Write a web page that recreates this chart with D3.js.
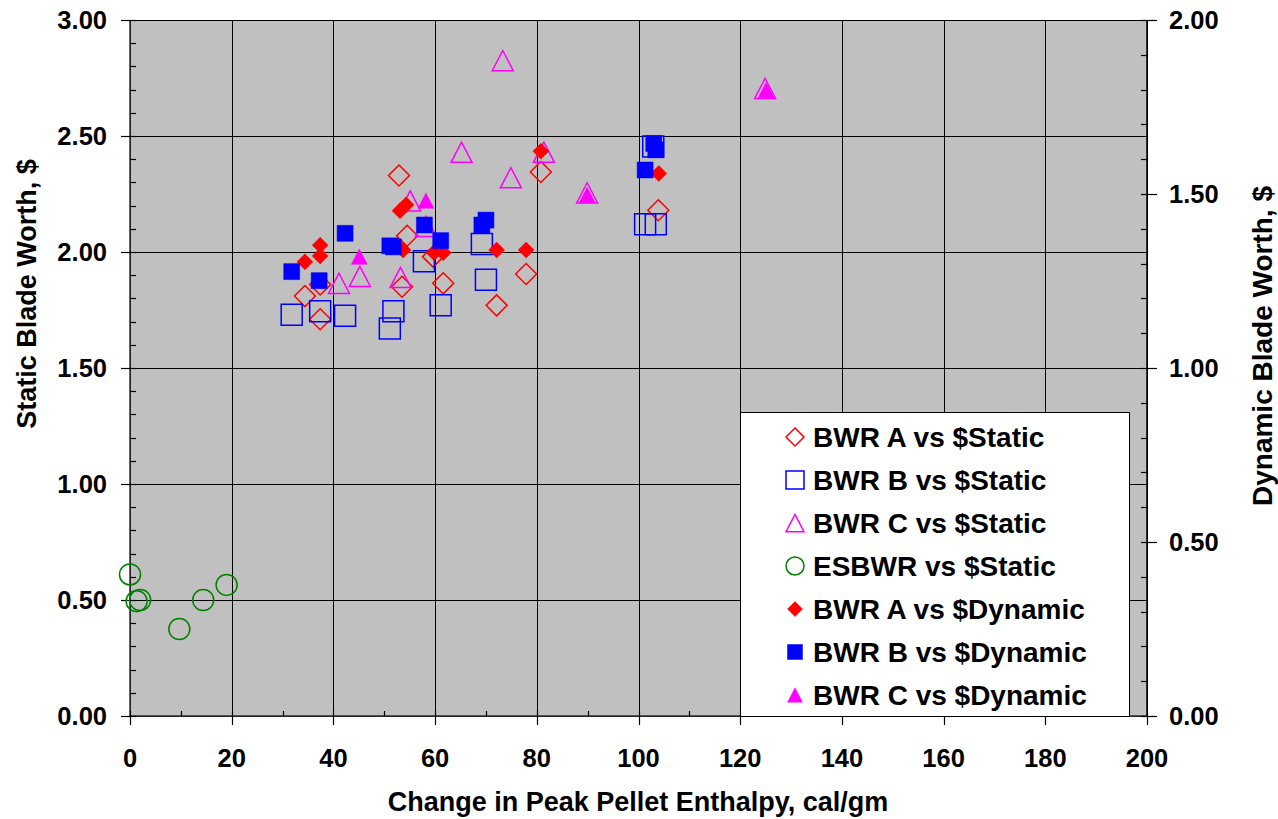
<!DOCTYPE html>
<html>
<head>
<meta charset="utf-8">
<script src="https://cdn.jsdelivr.net/npm/d3@7"></script>
<style>
	body { margin: 0; background: #fff; }
	text { font-family: Arial, "Liberation Sans", sans-serif; font-weight: bold; fill: #000; }
</style>
</head>
<body>
<svg id="chart"></svg>
<script>
// values: [enthalpy change, blade worth]
const staticA = [[34.4, 1.81], [37.4, 1.86], [37.4, 1.71], [52.9, 2.33], [54.5, 2.07], [53.5, 1.85],
	[59.6, 1.98], [61.6, 1.865], [72.1, 1.77], [77.9, 1.905], [80.8, 2.345], [103.9, 2.18]];
const staticB = [[31.8, 1.73], [37.4, 1.745], [42.3, 1.725], [51.8, 1.745], [51.1, 1.67], [57.8, 1.96],
	[61.1, 1.77], [69.2, 2.035], [70.0, 1.88], [101.3, 2.12], [103.4, 2.12], [102.9, 2.455]];
const staticC = [[41.1, 1.865], [45.2, 1.895], [53.2, 1.89], [55.1, 2.22], [58.2, 2.11], [65.2, 2.43],
	[73.3, 2.825], [74.9, 2.32], [81.4, 2.43], [89.9, 2.255], [124.9, 2.705]];
const staticESBWR = [[0, 0.61], [1.3, 0.495], [2.0, 0.5], [9.7, 0.375], [14.4, 0.5], [19.0, 0.565]];
// dynamic worth goes on the right axis
const dynamicA = [[34.4, 1.305], [37.4, 1.353], [37.4, 1.322], [53.1, 1.452], [54.3, 1.469], [53.7, 1.339],
	[59.8, 1.331], [61.6, 1.331], [72.1, 1.339], [77.9, 1.339], [80.8, 1.623], [104.0, 1.559]];
const dynamicB = [[31.8, 1.277], [37.2, 1.251], [42.3, 1.387], [51.1, 1.351], [51.8, 1.348], [57.9, 1.411],
	[61.1, 1.366], [69.2, 1.411], [70.0, 1.425], [101.3, 1.569], [103.0, 1.645], [103.4, 1.627]];
const dynamicC = [[45.1, 1.32], [58.2, 1.481], [89.9, 1.497], [125.1, 1.799]];

const xTicks = [0, 20, 40, 60, 80, 100, 120, 140, 160, 180, 200];
const yLeftTicks = [0, 0.5, 1, 1.5, 2, 2.5, 3];
const yRightTicks = [0, 0.5, 1, 1.5, 2];
const seriesNames = ["BWR A vs $Static", "BWR B vs $Static", "BWR C vs $Static", "ESBWR vs $Static",
	"BWR A vs $Dynamic", "BWR B vs $Dynamic", "BWR C vs $Dynamic"];

// custom marker shapes, size = width in px
const shapes = {
	diamond: { draw(ctx, s) { const h = s / 2; ctx.moveTo(0, -h); ctx.lineTo(h, 0); ctx.lineTo(0, h); ctx.lineTo(-h, 0); ctx.closePath(); } },
	square: { draw(ctx, s) { const h = s / 2; ctx.moveTo(-h, -h); ctx.lineTo(h, -h); ctx.lineTo(h, h); ctx.lineTo(-h, h); ctx.closePath(); } },
	triangle: { draw(ctx, s) { const h = s * 0.48; ctx.moveTo(0, -h); ctx.lineTo(s / 2, h); ctx.lineTo(-s / 2, h); ctx.closePath(); } },
	circle: { draw(ctx, s) { ctx.moveTo(s / 2, 0); ctx.arc(0, 0, s / 2, 0, 2 * Math.PI); } },
};

const series = [
	{ data: staticA, axis: "left", shape: "diamond", color: "#ff0000", filled: false, size: 21 },
	{ data: staticB, axis: "left", shape: "square", color: "#0000ff", filled: false, size: 21 },
	{ data: staticC, axis: "left", shape: "triangle", color: "#ff00ff", filled: false, size: 21 },
	{ data: staticESBWR, axis: "left", shape: "circle", color: "#008000", filled: false, size: 21 },
	{ data: dynamicA, axis: "right", shape: "diamond", color: "#ff0000", filled: true, size: 16 },
	{ data: dynamicB, axis: "right", shape: "square", color: "#0000ff", filled: true, size: 16 },
	{ data: dynamicC, axis: "right", shape: "triangle", color: "#ff00ff", filled: true, size: 16 },
];

const W = 1278, H = 819;
const plotL = 130, plotR = 1147, plotT = 20, plotB = 716;

const svg = d3.select("#chart").attr("width", W).attr("height", H);

const x = d3.scaleLinear().domain([0, 200]).range([plotL, plotR]);
const yL = d3.scaleLinear().domain([0, 3]).range([plotB, plotT]);
const yR = d3.scaleLinear().domain([0, 2]).range([plotB, plotT]);
const fmt = d3.format(".2f");

// plot background
svg.append("rect")
	.attr("x", plotL).attr("y", plotT)
	.attr("width", plotR - plotL).attr("height", plotB - plotT)
	.attr("fill", "#c0c0c0");

// grid
svg.append("g").selectAll("line")
	.data(yLeftTicks)
	.enter().append("line")
	.attr("x1", plotL).attr("x2", plotR)
	.attr("y1", (d) => Math.round(yL(d)) + 0.5).attr("y2", (d) => Math.round(yL(d)) + 0.5)
	.attr("stroke", "#000").attr("stroke-width", 1);
svg.append("g").selectAll("line")
	.data(xTicks)
	.enter().append("line")
	.attr("y1", plotT).attr("y2", plotB)
	.attr("x1", (d) => Math.round(x(d)) + 0.5).attr("x2", (d) => Math.round(x(d)) + 0.5)
	.attr("stroke", "#000").attr("stroke-width", 1);

// axes lines
const axisG = svg.append("g").attr("stroke", "#000").attr("stroke-width", 1.5);
axisG.append("line").attr("x1", plotL).attr("x2", plotL).attr("y1", plotT).attr("y2", plotB).attr("stroke", "#303030");
axisG.append("line").attr("x1", plotR).attr("x2", plotR).attr("y1", plotT).attr("y2", plotB);
axisG.append("line").attr("x1", plotL).attr("x2", plotR).attr("y1", plotB).attr("y2", plotB).attr("stroke", "#303030");

// ticks: major cross the axis, minor point inward
const tickG = svg.append("g").attr("stroke", "#000").attr("stroke-width", 1.2);
d3.range(0, 3.001, 0.1).forEach((v) => {
	const yy = Math.round(yL(v)) + 0.5;
	const major = Math.abs(v * 2 - Math.round(v * 2)) < 1e-6;
	tickG.append("line").attr("x1", major ? plotL - 9 : plotL).attr("x2", plotL + 6).attr("y1", yy).attr("y2", yy);
});
d3.range(0, 2.001, 0.1).forEach((v) => {
	const yy = Math.round(yR(v)) + 0.5;
	const major = Math.abs(v * 2 - Math.round(v * 2)) < 1e-6;
	tickG.append("line").attr("x1", plotR - 6).attr("x2", major ? plotR + 10 : plotR).attr("y1", yy).attr("y2", yy);
});
d3.range(0, 201, 10).forEach((v) => {
	const xx = Math.round(x(v)) + 0.5;
	const major = v % 20 === 0;
	tickG.append("line").attr("x1", xx).attr("x2", xx).attr("y1", plotB - 5).attr("y2", major ? plotB + 9 : plotB);
});

// tick labels
svg.append("g").selectAll("text")
	.data(yLeftTicks)
	.enter().append("text")
	.attr("x", 107).attr("y", (d) => yL(d) + 9)
	.attr("text-anchor", "end").attr("font-size", 25.5)
	.text((d) => fmt(d));
svg.append("g").selectAll("text")
	.data(yRightTicks)
	.enter().append("text")
	.attr("x", 1169).attr("y", (d) => yR(d) + 9)
	.attr("text-anchor", "start").attr("font-size", 25.5)
	.text((d) => fmt(d));
svg.append("g").selectAll("text")
	.data(xTicks)
	.enter().append("text")
	.attr("x", (d) => x(d)).attr("y", 767)
	.attr("text-anchor", "middle").attr("font-size", 25.5)
	.text((d) => d);

// axis titles
svg.append("text")
	.attr("x", 638).attr("y", 811)
	.attr("text-anchor", "middle").attr("font-size", 27)
	.text("Change in Peak Pellet Enthalpy, cal/gm");
svg.append("text")
	.attr("transform", "translate(36, 294) rotate(-90)")
	.attr("text-anchor", "middle").attr("font-size", 27)
	.text("Static Blade Worth, $");
svg.append("text")
	.attr("transform", "translate(1272, 346) rotate(-90)")
	.attr("text-anchor", "middle").attr("font-size", 28)
	.text("Dynamic Blade Worth, $");

// markers, drawn in series order
const symbol = d3.symbol();
series.forEach((s) => {
	const yScale = s.axis === "left" ? yL : yR;
	svg.append("g").selectAll("path")
		.data(s.data)
		.enter().append("path")
		.attr("transform", (d) => `translate(${x(d[0])}, ${yScale(d[1])})`)
		.attr("d", symbol.type(shapes[s.shape]).size(s.size)())
		.attr("fill", s.filled ? s.color : "none")
		.attr("stroke", s.color)
		.attr("stroke-width", s.filled ? 0.5 : 1.5);
});

// legend
const legend = svg.append("g");
legend.append("rect")
	.attr("x", 740.5).attr("y", 412.5).attr("width", 389).attr("height", 304)
	.attr("fill", "#fff").attr("stroke", "#000").attr("stroke-width", 1);
const rowY = d3.scaleLinear().domain([0, 6]).range([437, 695]);
series.forEach((s, i) => {
	legend.append("path")
		.attr("transform", `translate(795, ${rowY(i)})`)
		.attr("d", symbol.type(shapes[s.shape]).size(s.filled ? 15 : 18)())
		.attr("fill", s.filled ? s.color : "none")
		.attr("stroke", s.color)
		.attr("stroke-width", s.filled ? 0.5 : 1.5);
	legend.append("text")
		.attr("x", 813).attr("y", rowY(i) + 10)
		.attr("font-size", 28)
		.text(seriesNames[i]);
});
</script>
</body>
</html>
